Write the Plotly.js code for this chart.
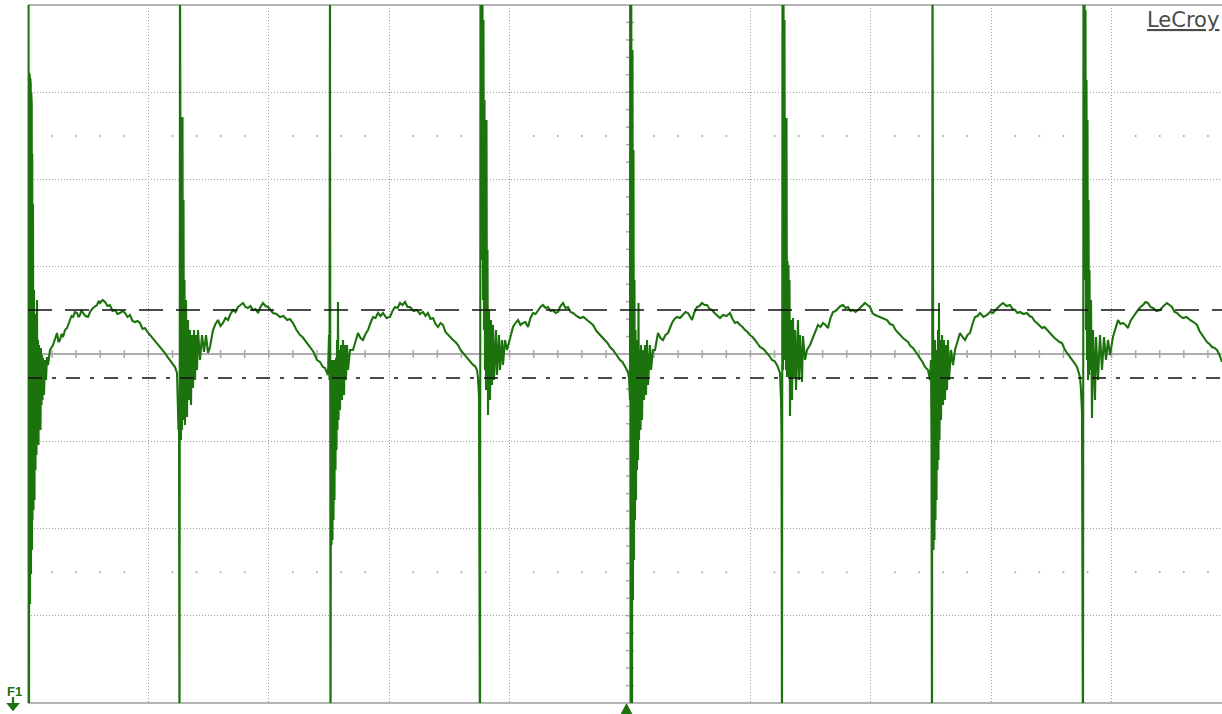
<!DOCTYPE html>
<html>
<head>
<meta charset="utf-8">
<script src="https://cdn.plot.ly/plotly-3.0.1.min.js"></script>
<style>
html,body{margin:0;padding:0;background:#fff;overflow:hidden;}
#chart{width:1222px;height:714px;}
</style>
</head>
<body>
<div id="chart"></div>
<script>
// Oscilloscope trace F1.
// Each point: [time in samples (1 division = 120.4 samples), level in ADC counts (1 division = 87.25 counts)]
const spike0 = [[0,-18],[0.5,414],[1,-426],[1.25,281],[1.5,-256],[1.75,278],[2,-250],[2.25,276],[2.5,-240],[2.75,270],[3,-220],[3.25,262],[3.5,-200],[3.75,250],[4,-196],[4.25,200],[4.5,-166],[5,150],[5.5,-156],[6,64],[6.5,-146],[7,40],[7.5,-116],[8,24],[8.5,-101],[9,54],[9.5,-86],[10,14],[10.5,-91],[11,9],[11.5,-66],[12,4],[12.5,-76],[13,6],[13.5,-51],[14,-1],[14.5,-46],[15,-4],[16,-41],[17,-6],[18,-26],[19,-3],[20,-11],[22,4]];
const arc0 = [[25,9],[27,15],[29,21],[30.5,12],[32,14],[33.5,20],[35,17],[37,24],[39,26],[40.5,30],[42,34],[43.5,38],[45,37],[47,42],[49,41],[50.5,37],[52,39],[53.5,44],[55,41],[57.5,38],[60,37],[62.5,43],[65,46],[67,48],[69,49],[70.5,53],[72,51],[74.5,54],[77,52],[79.5,48],[82,49],[84.5,43],[87,44],[89.5,40],[92,41],[94.5,43],[97,41],[99.5,37],[102,39],[104.5,33],[107,32],[109.5,33],[112,31],[114.5,25],[117,26],[119.5,22],[122,19],[124.5,16],[127,14],[129.5,11],[132,7],[134.5,5],[137,1],[139.5,-3],[142,-6],[144.5,-9],[147,-13],[149,-19]];
const spike1 = [[150,-46],[150.5,-76],[151,-56],[151.5,-426],[152,414],[152.5,24],[153,-86],[153.5,204],[154,-76],[154.5,237],[155,-66],[155.5,154],[156,-56],[156.5,74],[157,-71],[158,54],[159,-63],[160,34],[161,-46],[162,24],[163,-51],[164,19],[165,-34],[166,24],[167,-26],[168,19],[169,-16],[170,24],[172,-6],[174,19],[176,2],[178,19],[180,1],[182,7]];
const arc1 = [[185,24],[187.5,30],[190,34],[192.5,28],[195,31],[197.5,36],[200,34],[202.5,40],[205,44],[207.5,42],[210,47],[212.5,49],[215,51],[217.5,47],[220,46],[222.5,48],[225,44],[227.5,45],[230,41],[232.5,47],[235,51],[237.5,48],[240,47],[242.5,44],[245,41],[248.5,40],[252,37],[255.5,38],[259,34],[262,35],[265,31],[268.5,24],[272,19],[274.5,17],[277,14],[279.5,11],[282,7],[285.5,2],[289,-6],[292,-8],[295,-13],[297,-14],[299,-18]];
const spike2 = [[300,-21],[301,19],[301.5,-26],[302,414],[302.5,-426],[303,-6],[303.5,-191],[304,-16],[304.5,-186],[305,-6],[305.5,-166],[306,-21],[306.5,-146],[307,-6],[307.5,-116],[308,-4],[308.5,-96],[309,14],[309.5,-76],[310,52],[310.5,-66],[311,4],[312,-56],[313,9],[314,-46],[315,14],[316,-41],[317,9],[318,-26],[319,9],[320,-16],[322,4]];
const arc2 = [[325,4],[327.5,12],[330,21],[332.5,16],[335,14],[337.5,20],[340,24],[342.5,31],[345,37],[347.5,36],[350,41],[352.5,38],[355,41],[358.5,36],[362,37],[364.5,43],[367,47],[369.5,46],[372,51],[374.5,49],[377,52],[379.5,47],[382,47],[385.5,43],[389,44],[392,40],[395,42],[397.5,38],[400,41],[402.5,35],[405,36],[407.5,30],[410,27],[412.5,31],[415,29],[417.5,22],[420,19],[422.5,17],[425,14],[427.5,12],[430,9],[432.5,4],[435,1],[437.5,-1],[440,-4],[442.5,-7],[445,-11],[447,-12],[449,-16]];
const spike3 = [[450,-24],[451,-43],[452,-426],[452.5,414],[453,94],[453.5,394],[454,104],[454.5,354],[455,54],[455.5,334],[456,24],[456.5,254],[457,-16],[457.5,154],[458,-36],[458.5,234],[459,-26],[459.5,104],[460,-61],[461,44],[462,-46],[463,34],[464,-31],[465,29],[466,-26],[468,24],[469,-21],[471,19],[472,-16],[474,14],[475,-11],[477,14],[479,4]];
const arc3 = [[482,17],[485,27],[487.5,31],[490,34],[492.5,29],[495,31],[497.5,32],[500,27],[502.5,36],[505,41],[507.5,40],[510,44],[512.5,47],[515,49],[517.5,46],[520,47],[522.5,43],[525,44],[527.5,41],[530,42],[532.5,48],[535,51],[537.5,46],[540,47],[542.5,42],[545,41],[548.5,38],[552,36],[555.5,37],[559,34],[562,31],[565,29],[568.5,23],[572,19],[574.5,17],[577,14],[579.5,11],[582,7],[585,4],[588.5,-1],[592,-6],[594.5,-8],[597,-13],[600,-18]];
const spike4 = [[601,-24],[602,-46],[602.25,414],[602.5,-426],[602.75,414],[603,-426],[603.25,414],[603.5,-426],[603.75,414],[604,-426],[604.5,304],[605,-246],[605.5,204],[606,-206],[606.5,74],[607,-166],[607.5,24],[608,-146],[608.5,14],[609,-116],[609.5,4],[610,-106],[610.5,51],[611,-86],[612,4],[612.5,-76],[613,9],[614,-66],[615,4],[616,-46],[617,9],[618,-41],[619,14],[620,-31],[622,9],[623,-16],[625,4]];
const arc4 = [[627,4],[630,21],[632.5,16],[635,14],[637.5,19],[640,21],[642,27],[644,31],[646.5,35],[649,37],[652,36],[655,39],[657.5,42],[660,41],[662,37],[664,34],[666.5,42],[669,47],[671.5,48],[674,51],[676.5,49],[679,49],[681.5,45],[684,44],[686.5,41],[689,39],[692,36],[695,39],[698.5,38],[702,41],[704.5,35],[707,31],[709.5,32],[712,29],[714.5,27],[717,24],[719.5,22],[722,19],[724.5,17],[727,14],[729.5,10],[732,7],[735.5,5],[739,1],[741.5,-2],[744,-6],[746.5,-7],[749,-11],[752,-19]];
const spike5 = [[753,-46],[753.5,-80],[754,-426],[754.5,414],[755,-16],[755.5,414],[756,-6],[756.5,334],[757,14],[757.5,204],[758,-16],[758.5,236],[759,-23],[759.5,93],[760,-23],[760.5,89],[761,-21],[761.5,74],[762,-62],[763,34],[764,-46],[765,36],[766,-23],[767,24],[768,-36],[770,34],[771,-26],[772,19],[774,-28],[775,18],[777,-6],[779,4]];
const arc5 = [[782,9],[785,17],[787.5,24],[790,29],[792.5,27],[795,31],[797.5,29],[800,26],[802.5,36],[805,42],[807.5,43],[810,46],[812.5,48],[815,49],[817.5,46],[820,47],[822.5,43],[825,44],[827.5,42],[830,44],[833.5,48],[837,51],[839.5,49],[842,47],[844.5,41],[847,39],[849.5,38],[852,37],[855.5,35],[859,34],[862,30],[865,29],[867.5,24],[870,21],[872.5,18],[875,16],[877.5,14],[880,12],[882.5,8],[885,6],[888.5,1],[892,-4],[894.5,-8],[897,-13],[900,-16]];
const spike6 = [[902,-26],[903,-6],[903.5,-86],[904,-426],[904.5,414],[905,-6],[905.5,-196],[906,-4],[906.5,-186],[907,14],[907.5,-166],[908,4],[908.5,-146],[909,-6],[909.5,-116],[910,24],[910.5,-106],[911,51],[911.5,-86],[912,14],[913,-66],[914,19],[915,-51],[916,14],[917,-46],[918,9],[919,-36],[920,14],[921,-26],[923,4],[925,-11],[927,4]];
const arc6 = [[930,15],[932,21],[934.5,17],[937,14],[939.5,19],[942,21],[944.5,30],[947,37],[949.5,38],[952,41],[955.5,37],[959,39],[962,42],[965,41],[967.5,44],[970,47],[972.5,49],[975,51],[978.5,48],[982,49],[984.5,45],[987,44],[989.5,41],[992,42],[995.5,40],[999,41],[1001.5,38],[1004,37],[1006.5,33],[1009,31],[1011.5,28],[1014,26],[1016.5,27],[1019,24],[1021.5,21],[1024,19],[1026.5,16],[1029,14],[1031.5,12],[1034,11],[1036.5,5],[1039,1],[1041.5,-2],[1044,-6],[1046.5,-9],[1049,-13],[1052,-23]];
const spike7 = [[1053,-36],[1054,-59],[1055,-426],[1055.5,414],[1056,104],[1056.5,414],[1057,74],[1057.5,344],[1058,24],[1058.5,274],[1059,-6],[1059.5,234],[1060,-26],[1060.5,154],[1061,-21],[1061.5,84],[1062,-16],[1063,54],[1064,-64],[1065,24],[1067,-46],[1068,17],[1070,-26],[1072,19],[1074,-16],[1076,17],[1078,-6],[1080,14],[1082,-1]];
const arc7 = [[1085,17],[1087.5,27],[1090,34],[1092.5,30],[1095,31],[1097.5,29],[1100,26],[1102.5,33],[1105,37],[1107.5,41],[1110,44],[1112.5,47],[1115,49],[1117.5,52],[1120,51],[1122.5,47],[1125,46],[1128.5,43],[1132,44],[1135.5,48],[1139,51],[1141.5,49],[1144,47],[1146.5,42],[1149,41],[1152,38],[1155,36],[1158.5,37],[1162,34],[1165.5,32],[1169,29],[1171.5,23],[1174,19],[1176.5,15],[1179,12],[1181.5,10],[1184,7],[1186.5,6],[1189,4],[1191.5,-1],[1194,-8]];

// Horizontal level markers (counts)
const upperLevel = 44;
const lowerLevel = -24;
const samplesPerDiv = 120.4;
const countsPerDiv = 87.25;
const xMax = 1194;
const yHalf = 349;
const triggerSample = 598.5;

const segments = [spike0, arc0, spike1, arc1, spike2, arc2, spike3, arc3, spike4, arc4, spike5, arc5, spike6, arc6, spike7, arc7];
const timeSamples = [], level = [];
segments.forEach(seg => seg.forEach(p => { timeSamples.push(p[0]); level.push(p[1]); }));

const green = '#1c720c';
const gridGray = '#a0a0a0';

const shapes = [];
// center cross (solid gray)
shapes.push({type:'line', layer:'below', xref:'x', yref:'y', x0:0, x1:xMax, y0:0, y1:0, line:{color:'#b0b0b0', width:2}});
shapes.push({type:'line', layer:'below', xref:'x', yref:'y', x0:5*samplesPerDiv, x1:5*samplesPerDiv, y0:-yHalf, y1:yHalf, line:{color:'#b0b0b0', width:2}});
// minor ticks on center lines
for (let k = 1; k * samplesPerDiv/5 < xMax; k++) {
  const xv = k * samplesPerDiv/5;
  shapes.push({type:'line', layer:'below', xref:'x', yref:'y', ysizemode:'pixel', yanchor:0, x0:xv, x1:xv, y0:-4, y1:4, line:{color:'#a8a8a8', width:1.5}});
}
for (let k = -19; k <= 19; k++) {
  if (k === 0) continue;
  const yv = k * countsPerDiv/5;
  shapes.push({type:'line', layer:'below', xref:'x', yref:'y', xsizemode:'pixel', xanchor:5*samplesPerDiv, x0:-4, x1:4, y0:yv, y1:yv, line:{color:'#a8a8a8', width:1.5}});
}
// frame
shapes.push({type:'line', layer:'below', xref:'paper', yref:'paper', x0:0, x1:1, y0:1, y1:1, line:{color:'#b4b4b4', width:2}});
shapes.push({type:'line', layer:'below', xref:'paper', yref:'paper', x0:0, x1:1, y0:0, y1:0, line:{color:'#b4b4b4', width:2}});
shapes.push({type:'line', layer:'below', xref:'paper', yref:'paper', x0:0, x1:0, y0:0, y1:1, line:{color:'#b4b4b4', width:2}});
// level lines (above trace)
shapes.push({type:'line', layer:'above', xref:'paper', yref:'y', x0:0, x1:1, y0:upperLevel, y1:upperLevel, line:{color:'#111', width:1.5, dash:'24px,13px'}});
shapes.push({type:'line', layer:'above', xref:'paper', yref:'y', x0:0, x1:1, y0:lowerLevel, y1:lowerLevel, line:{color:'#111', width:1.5, dash:'14px,10px,4px,10px'}});
// trigger marker (triangle under the time axis)
shapes.push({type:'path', layer:'above', xref:'x', yref:'paper', xsizemode:'pixel', ysizemode:'pixel', xanchor:triggerSample, yanchor:0,
  path:'M-7,-14 L0,-1 L7,-14 Z', fillcolor:green, line:{color:green, width:1}});
// F1 arrow
shapes.push({type:'path', layer:'above', xref:'paper', yref:'paper', xsizemode:'pixel', ysizemode:'pixel', xanchor:0, yanchor:0,
  path:'M-15,6 L-15,0 M-19.5,-1 L-15,-6.5 L-10.5,-1 Z', fillcolor:green, line:{color:green, width:2.2}});

// sparse dots at +/-2.5 divisions
const dotX = [], dotY = [];
for (let k = 1; k * samplesPerDiv/5 < xMax; k++) {
  if (k % 5 === 0) continue;
  dotX.push(k * samplesPerDiv/5, k * samplesPerDiv/5);
  dotY.push(2.5*countsPerDiv, -2.5*countsPerDiv);
}

const traces = [
  {x:dotX, y:dotY, mode:'markers', type:'scatter', marker:{color:'#a6a6a6', size:2}, hoverinfo:'skip'},
  {x:timeSamples, y:level, mode:'lines', type:'scatter', line:{color:green, width:2.1}, hoverinfo:'skip'}
];

const layout = {
  width:1222, height:714,
  margin:{l:28, r:0, t:5, b:11, autoexpand:false},
  paper_bgcolor:'#fff', plot_bgcolor:'#fff',
  showlegend:false,
  font:{family:'Liberation Sans, Arial, sans-serif'},
  xaxis:{range:[0,xMax], showticklabels:false, ticks:'', zeroline:false, showline:false,
         showgrid:true, tick0:0, dtick:samplesPerDiv, gridcolor:gridGray, gridwidth:1, griddash:'1px,2px', fixedrange:true},
  yaxis:{range:[-yHalf,yHalf], showticklabels:false, ticks:'', zeroline:false, showline:false,
         showgrid:true, tick0:0, dtick:countsPerDiv, gridcolor:gridGray, gridwidth:1, griddash:'1px,2px', fixedrange:true},
  shapes:shapes,
  annotations:[
    {xref:'paper', yref:'paper', x:1, y:1, xanchor:'right', yanchor:'top', xshift:-1, yshift:-1, showarrow:false,
     text:'<u>LeCroy</u>', font:{size:21, color:'#4a4a4a', family:'DejaVu Sans, sans-serif'}},
    {xref:'paper', yref:'paper', x:0, y:0, xanchor:'right', yanchor:'bottom', xshift:-4, yshift:2, showarrow:false,
     text:'<b>F1</b>', font:{size:13, color:green, family:'Liberation Sans, Arial, sans-serif'}}
  ]
};

Plotly.newPlot('chart', traces, layout, {staticPlot:true, displayModeBar:false});
</script>
</body>
</html>
